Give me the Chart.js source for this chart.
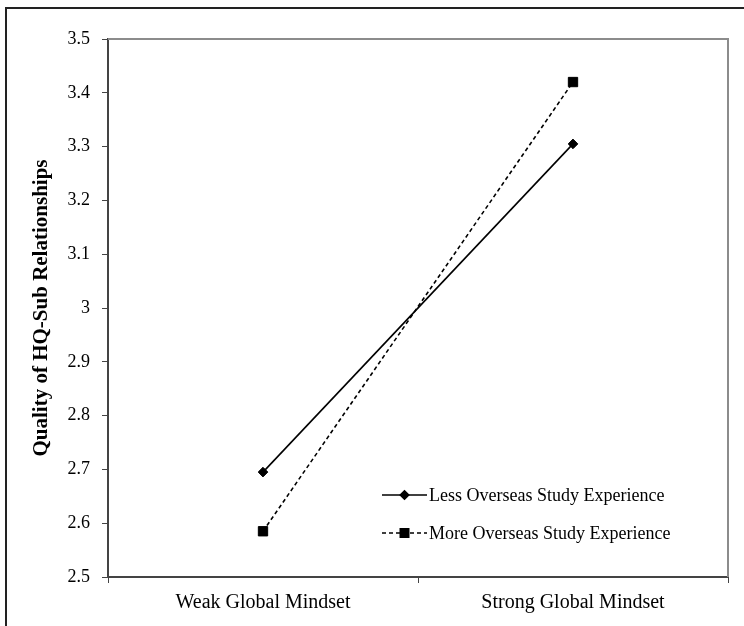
<!DOCTYPE html>
<html>
<head>
<meta charset="utf-8">
<style>
  html, body { margin: 0; padding: 0; background: #fff; }
  #wrap { position: relative; width: 744px; height: 626px; overflow: hidden; }
  #frame { position: absolute; left: 5px; top: 7px; width: 900px; height: 900px;
           border-top: 2px solid #222; border-left: 2px solid #222; pointer-events: none; }
  canvas { position: absolute; left: 0; top: 0; }
</style>
<script src="https://cdn.jsdelivr.net/npm/chart.js@4.4.1/dist/chart.umd.min.js"></script>
</head>
<body>
<div id="wrap">
  <canvas id="c" width="744" height="626"></canvas>
  <div id="frame"></div>
</div>
<script>
const categories = ["Weak Global Mindset", "Strong Global Mindset"];
const lessValues = [2.695, 3.305];
const moreValues = [2.585, 3.42];
const seriesNames = ["Less Overseas Study Experience", "More Overseas Study Experience"];
const yTicks = [2.5, 2.6, 2.7, 2.8, 2.9, 3, 3.1, 3.2, 3.3, 3.4, 3.5];
const yTitle = "Quality of HQ-Sub Relationships";

const FONT = "'Liberation Serif', 'Times New Roman', serif";

const plotFrame = {
  id: 'plotFrame',
  beforeDatasetsDraw(chart) {
    const a = chart.chartArea, ctx = chart.ctx;
    ctx.save();
    ctx.strokeStyle = '#8c8c8c';
    ctx.lineWidth = 2;
    ctx.beginPath();
    ctx.moveTo(a.left, a.top);
    ctx.lineTo(a.right, a.top);
    ctx.lineTo(a.right, a.bottom);
    ctx.stroke();
    ctx.restore();
  }
};

const customLegend = {
  id: 'customLegend',
  afterDraw(chart) {
    const ctx = chart.ctx;
    const rows = [{y: 495}, {y: 533}];
    chart.data.datasets.forEach((ds, i) => {
      const y = rows[i].y;
      const x0 = 382, x1 = 427;
      ctx.save();
      ctx.strokeStyle = ds.borderColor;
      ctx.lineWidth = 1.5;
      ctx.setLineDash(ds.borderDash || []);
      ctx.beginPath();
      ctx.moveTo(x0, y);
      ctx.lineTo(x1, y);
      ctx.stroke();
      ctx.setLineDash([]);
      ctx.fillStyle = ds.pointBackgroundColor;
      ctx.strokeStyle = ds.pointBorderColor;
      Chart.helpers.drawPoint(ctx, {pointStyle: ds.pointStyle, radius: ds.pointStyle === 'rect' ? 6 : 4.3, borderWidth: 1, rotation: 0}, (x0 + x1) / 2, y);
      ctx.fillStyle = '#000';
      ctx.font = "18px " + FONT;
      ctx.textBaseline = 'middle';
      ctx.textAlign = 'left';
      ctx.fillText(ds.label, 429, y + 1);
      ctx.restore();
    });
  }
};

new Chart(document.getElementById('c'), {
  type: 'line',
  data: {
    labels: categories,
    datasets: [
      {
        label: seriesNames[0],
        data: lessValues,
        borderColor: '#000',
        borderWidth: 1.6,
        pointStyle: 'rectRot',
        pointRadius: 4.8,
        pointBackgroundColor: '#000',
        pointBorderColor: '#000',
        pointBorderWidth: 1,
        tension: 0
      },
      {
        label: seriesNames[1],
        data: moreValues,
        borderColor: '#000',
        borderWidth: 1.6,
        borderDash: [4, 3],
        pointStyle: 'rect',
        pointRadius: 6.6,
        pointBackgroundColor: '#000',
        pointBorderColor: '#000',
        pointBorderWidth: 1,
        tension: 0
      }
    ]
  },
  options: {
    responsive: false,
    animation: false,
    events: [],
    layout: { padding: { left: 0, top: 39, right: 16, bottom: 0 } },
    plugins: { legend: { display: false }, tooltip: { enabled: false } },
    scales: {
      x: {
        type: 'category',
        offset: true,
        afterFit(s) { s.height = 626 - 39 - 538; },
        grid: { display: true, offset: true, drawOnChartArea: false, drawTicks: true, tickLength: 6, color: '#444', lineWidth: 1 },
        border: { display: true, color: '#444', width: 2 },
        ticks: { color: '#000', font: { family: FONT, size: 20 }, padding: 8, maxRotation: 0 }
      },
      y: {
        min: 2.5, max: 3.5,
        afterFit(s) { s.width = 108; },
        afterBuildTicks(s) { s.ticks = yTicks.map(v => ({ value: v })); },
        grid: { display: true, drawOnChartArea: false, drawTicks: true, tickLength: 6, color: '#444', lineWidth: 1 },
        border: { display: true, color: '#444', width: 2 },
        ticks: { color: '#000', font: { family: FONT, size: 18 }, padding: 12, callback: v => String(v) },
        title: { display: true, text: yTitle, color: '#000', font: { family: FONT, size: 21, weight: 'bold' }, padding: { top: 29, bottom: 0 } }
      }
    }
  },
  plugins: [plotFrame, customLegend]
});
</script>
</body>
</html>
